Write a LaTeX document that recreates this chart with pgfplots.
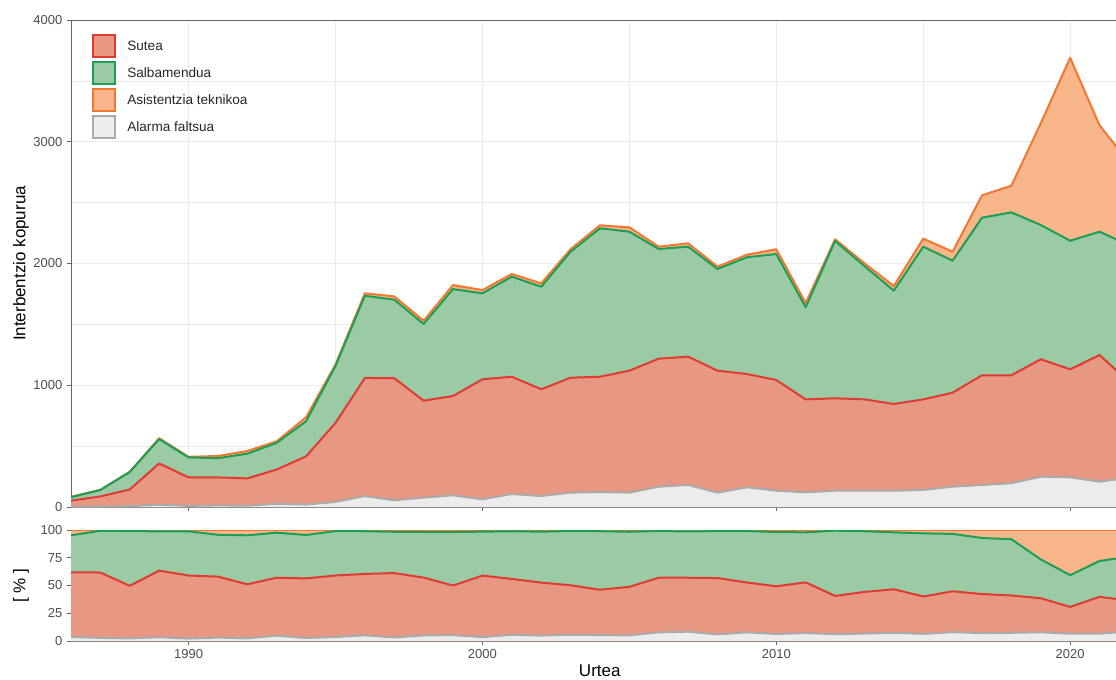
\documentclass[border=0pt]{standalone}
\usepackage{fontspec}
\setmainfont{Liberation Sans}
\usepackage{pgfplots}
\usepackage{pgfplotstable}
\pgfplotsset{compat=1.18}

\definecolor{suteaL}{HTML}{DE3B33}
\definecolor{suteaF}{HTML}{E89782}
\definecolor{salbL}{HTML}{1D9E54}
\definecolor{salbF}{HTML}{9ACBA5}
\definecolor{asistL}{HTML}{F07832}
\definecolor{asistF}{HTML}{F8B68A}
\definecolor{alarmL}{HTML}{AAAAAA}
\definecolor{alarmF}{HTML}{ECECEC}
\definecolor{tickc}{HTML}{4D4D4D}
\definecolor{gridc}{HTML}{EBEBEB}

% cumulative (stacked) counts: G = Alarma, R = +Sutea, S = +Salbamendua, O = +Asistentzia
\pgfplotstableread{
year G R S O
1986 3 52 80 84
1987 4 87 140 141
1988 7 144 287 290
1989 19 358 558 565
1990 9 243 407 412
1991 13 243 401 419
1992 11 235 438 460
1993 26 308 527 540
1994 20 416 704 737
1995 42 690 1158 1170
1996 90 1060 1735 1755
1997 55 1058 1703 1730
1998 77 873 1503 1530
1999 96 912 1790 1823
2000 63 1049 1755 1782
2001 107 1070 1892 1914
2002 90 967 1809 1837
2003 118 1062 2097 2117
2004 123 1070 2289 2314
2005 118 1120 2261 2297
2006 167 1218 2119 2138
2007 181 1235 2138 2166
2008 118 1120 1955 1974
2009 162 1092 2051 2072
2010 134 1043 2078 2117
2011 121 884 1640 1675
2012 134 893 2185 2199
2013 134 884 1979 2002
2014 134 846 1777 1815
2015 140 884 2138 2204
2016 167 939 2023 2097
2017 181 1082 2376 2560
2018 195 1082 2420 2639
2019 249 1213 2316 3152
2020 244 1131 2187 3690
2021 208 1248 2261 3135
2022 242 1028 2150 2830
}\counts

% cumulative shares in percent
\pgfplotstableread{
year pG pR pS pO
1986 3.6 61.9 95.2 100
1987 2.8 61.7 99.3 100
1988 2.4 49.7 99.0 100
1989 3.4 63.4 98.8 100
1990 2.2 59.0 98.8 100
1991 3.1 58.0 95.7 100
1992 2.4 51.1 95.2 100
1993 4.8 57.0 97.6 100
1994 2.7 56.4 95.5 100
1995 3.6 59.0 99.0 100
1996 5.1 60.4 98.9 100
1997 3.2 61.2 98.4 100
1998 5.0 57.1 98.2 100
1999 5.3 50.0 98.2 100
2000 3.5 58.9 98.5 100
2001 5.6 55.9 98.9 100
2002 4.9 52.6 98.5 100
2003 5.6 50.2 99.1 100
2004 5.3 46.2 98.9 100
2005 5.1 48.8 98.4 100
2006 7.8 57.0 99.1 100
2007 8.4 57.0 98.7 100
2008 6.0 56.7 99.0 100
2009 7.8 52.7 99.0 100
2010 6.3 49.3 98.2 100
2011 7.2 52.8 97.9 100
2012 6.1 40.6 99.4 100
2013 6.7 44.2 98.9 100
2014 7.4 46.6 97.9 100
2015 6.4 40.1 97.0 100
2016 8.0 44.8 96.5 100
2017 7.1 42.3 92.8 100
2018 7.4 41.0 91.7 100
2019 7.9 38.5 73.5 100
2020 6.6 30.7 59.3 100
2021 6.6 39.8 72.1 100
2022 8.6 36.3 76.0 100
}\shares

\pgfplotsset{
  layers/mylayers/.define layer set={axis background,axis grid,pre main,main,axis ticks,axis lines,axis tick labels,axis descriptions,axis foreground}{},
  panel/.style={
    set layers=mylayers,
    scale only axis,
    width=783.75pt,
    xmin=1986, xmax=2021.56,
    enlargelimits=false,
    axis x line=box, axis y line=left,
    axis line style={-, draw=black!60, line width=0.6pt},
    tick align=outside, xtick pos=left, ytick pos=left,
    major tick length=3pt,
    tick style={draw=black!60, line width=0.6pt},
    xtick={1990,2000,2010,2020},
    tick label style={font=\fontsize{9.75}{11}\selectfont, text=tickc},
    /pgf/number format/assume math mode=true,
    /pgf/number format/1000 sep={},
    scaled ticks=false,
    every axis y label/.style={at={(axis description cs:-0.04785,0.5)}, rotate=90, anchor=center, font=\fontsize{12.75}{15}\selectfont},
    every axis x label/.style={at={(axis description cs:0.506,0)}, anchor=center, yshift=-22.5pt, font=\fontsize{12.75}{15}\selectfont},
  },
  fillA/.style={draw=none, fill=#1, forget plot},
  lineA/.style={draw=#1, line width=1.5pt, line join=round, forget plot},
}

\begin{document}
\begin{tikzpicture}

% top panel
\begin{axis}[panel,
  at={(0pt,100.5pt)}, anchor=south west,
  height=365.25pt,
  ymin=0, ymax=4000,
  ytick={0,1000,2000,3000,4000},
  xticklabels={},
  grid=both,
  minor x tick num=1, minor y tick num=1,
  minor tick length=0pt,
  major grid style={draw=gridc, line width=0.7pt},
  minor grid style={draw=gridc, line width=0.4pt},
  ylabel={Interbentzio kopurua},
  legend image code/.code={\draw[#1, line width=1.5pt] (0pt,-8.25pt) rectangle (16.5pt,8.25pt);},
  legend cell align=left,
  legend style={at={(axis description cs:0,1)}, anchor=north west, xshift=15.75pt, yshift=-10.7pt,
    draw=none, fill=none, inner sep=0pt, outer sep=0pt, row sep=2.25pt, column sep=6.5pt,
    font=\fontsize{10.2}{12}\selectfont, nodes={text=black!85}},
]
\addlegendimage{draw=suteaL, fill=suteaF}
\addlegendentry{Sutea}
\addlegendimage{draw=salbL, fill=salbF}
\addlegendentry{Salbamendua}
\addlegendimage{draw=asistL, fill=asistF}
\addlegendentry{Asistentzia teknikoa}
\addlegendimage{draw=alarmL, fill=alarmF}
\addlegendentry{Alarma faltsua}

\addplot[fillA=asistF] table[x=year,y=O]{\counts} \closedcycle;
\addplot[fillA=salbF] table[x=year,y=S]{\counts} \closedcycle;
\addplot[fillA=suteaF] table[x=year,y=R]{\counts} \closedcycle;
\addplot[fillA=alarmF] table[x=year,y=G]{\counts} \closedcycle;
\addplot[lineA=asistL] table[x=year,y=O]{\counts};
\addplot[lineA=salbL] table[x=year,y=S]{\counts};
\addplot[lineA=suteaL] table[x=year,y=R]{\counts};
\addplot[lineA=alarmL] table[x=year,y=G]{\counts};
\end{axis}

% bottom panel
\begin{axis}[panel,
  at={(0pt,0pt)}, anchor=south west,
  height=83.25pt,
  ymin=0, ymax=100,
  ytick={0,25,50,75,100},
  ylabel={[ \% ]},
  xlabel={Urtea},
]
\addplot[fillA=asistF] table[x=year,y=pO]{\shares} \closedcycle;
\addplot[fillA=salbF] table[x=year,y=pS]{\shares} \closedcycle;
\addplot[fillA=suteaF] table[x=year,y=pR]{\shares} \closedcycle;
\addplot[fillA=alarmF] table[x=year,y=pG]{\shares} \closedcycle;
\addplot[lineA=asistL] table[x=year,y=pO]{\shares};
\addplot[lineA=salbL] table[x=year,y=pS]{\shares};
\addplot[lineA=suteaL] table[x=year,y=pR]{\shares};
\addplot[lineA=alarmL] table[x=year,y=pG]{\shares};
\end{axis}

\pgfresetboundingbox
\useasboundingbox (-53.25pt,-28.5pt) rectangle (783.75pt,480.75pt);
\end{tikzpicture}
\end{document}
